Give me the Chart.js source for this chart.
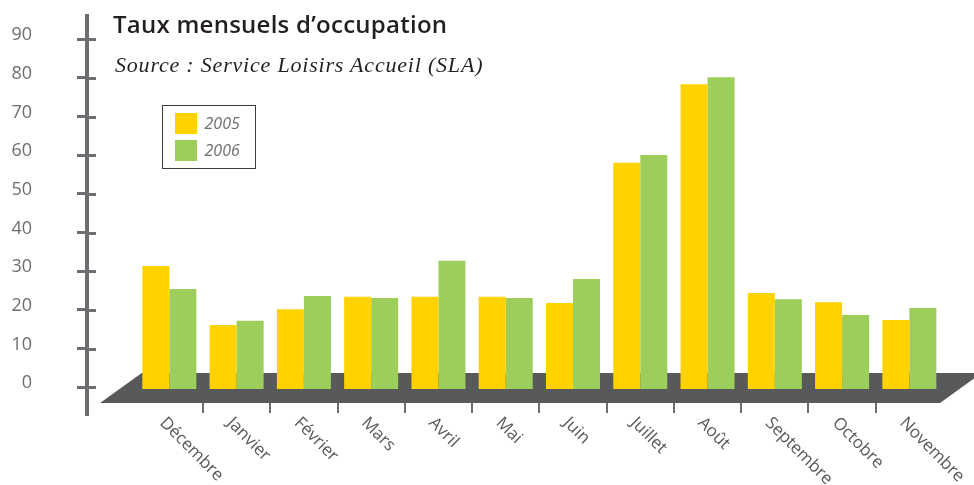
<!DOCTYPE html>
<html><head><meta charset="utf-8">
<script src="https://cdn.jsdelivr.net/npm/chart.js@4"></script>
<style>
html,body{margin:0;padding:0;background:#fff;}
#wrap{position:relative;width:974px;height:485px;overflow:hidden;background:#fff;}
#chart{position:absolute;left:0;top:0;}
#title{position:absolute;left:113px;top:12px;font:600 24px/24px 'Open Sans';color:#231f20;white-space:nowrap;letter-spacing:0.25px;}
#subtitle{position:absolute;left:115px;top:54px;font:italic 22px/22px 'Liberation Serif';color:#231f20;letter-spacing:0.8px;white-space:nowrap;}
#legend{position:absolute;left:162px;top:105px;width:94px;height:64px;border:1.5px solid #3d3d3d;box-sizing:border-box;}
.item{position:absolute;left:11.5px;height:21px;display:flex;align-items:center;}
.sw{width:22px;height:21px;}
.lbl{margin-left:8px;font:italic 16px/21px 'Open Sans';color:#6d6e71;}
</style></head>
<body>
<div id="wrap">
<canvas id="chart" width="974" height="485"></canvas>
<div id="title">Taux mensuels d’occupation</div>
<div id="subtitle">Source : Service Loisirs Accueil (SLA)</div>
<div id="legend"></div>
</div>
<script>
// ---- data ----
const months = ['Décembre','Janvier','Février','Mars','Avril','Mai','Juin','Juillet','Août','Septembre','Octobre','Novembre'];
const series2005 = [31.4, 16.1, 20.2, 23.4, 23.4, 23.4, 21.8, 58.1, 78.4, 24.4, 22.0, 17.4];
const series2006 = [25.4, 17.2, 23.6, 23.1, 32.7, 23.1, 28.0, 60.1, 80.2, 22.8, 18.7, 20.5];
const seriesLabels = ['2005', '2006'];
const yTicks = [0, 10, 20, 30, 40, 50, 60, 70, 80, 90];

const YELLOW = '#ffd200';
const GREEN = '#9dcd5a';
const AXIS = '#6d6e71';
const FLOOR = '#58595b';

// x scale with labels slanting down-right
class SlantedLinearScale extends Chart.LinearScale {
  _getXAxisLabelAlignment() { return 'left'; }
}
SlantedLinearScale.id = 'slantedLinear';
SlantedLinearScale.defaults = Chart.LinearScale.defaults;
Chart.register(SlantedLinearScale);

const toPoints = arr => arr.map((v, i) => ({ x: i, y: v }));

const decor = {
  id: 'decor',
  beforeDatasetsDraw(chart) {
    const { ctx, scales: { x, y } } = chart;
    const yTop = y.getPixelForValue(3.7);
    const yBot = y.getPixelForValue(y.min);
    const xBL = x.getPixelForValue(-1.03);
    const xTL = x.getPixelForValue(-0.41);
    const xBR = x.getPixelForValue(11.455);
    const xTR = xBR + (xTL - xBL);
    ctx.save();
    ctx.fillStyle = FLOOR;
    ctx.beginPath();
    ctx.moveTo(xBL, yBot);
    ctx.lineTo(xTL, yTop);
    ctx.lineTo(xTR, yTop);
    ctx.lineTo(xBR, yBot);
    ctx.closePath();
    ctx.fill();
    ctx.restore();
  },
  afterDraw(chart) {
    const { ctx, chartArea, scales: { y } } = chart;
    ctx.save();
    ctx.strokeStyle = AXIS;
    ctx.lineWidth = 3;
    ctx.beginPath();
    y.ticks.forEach(t => {
      const py = Math.round(y.getPixelForValue(t.value)) + 0.5;
      ctx.moveTo(chartArea.left, py);
      ctx.lineTo(chartArea.left + 9, py);
    });
    ctx.stroke();
    ctx.lineWidth = 4;
    ctx.beginPath();
    ctx.moveTo(chartArea.left, chartArea.bottom - 1);
    ctx.lineTo(chartArea.left, chartArea.bottom + 13);
    ctx.stroke();
    ctx.restore();
  }
};

const chart = new Chart(document.getElementById('chart'), {
  type: 'bar',
  data: {
    datasets: [
      { label: seriesLabels[0], data: toPoints(series2005), backgroundColor: YELLOW, base: -0.45 },
      { label: seriesLabels[1], data: toPoints(series2006), backgroundColor: GREEN, base: -0.45 }
    ]
  },
  options: {
    responsive: false,
    animation: false,
    devicePixelRatio: 1,
    categoryPercentage: 0.803,
    barPercentage: 1.0,
    layout: { padding: { top: 16, right: 31, left: 0, bottom: 0 } },
    plugins: { legend: { display: false }, title: { display: false }, tooltip: { enabled: false } },
    scales: {
      x: {
        type: 'slantedLinear',
        offset: false,
        min: -1.224,
        max: 11.5,
        afterBuildTicks: s => { s.ticks = months.map((m, i) => ({ value: i })); },
        afterFit: s => { s.height = 82; s.paddingLeft = 0; s.paddingRight = 0; },
        border: { display: false },
        grid: {
          display: true,
          drawOnChartArea: false,
          drawTicks: true,
          tickLength: 10,
          offset: true,
          lineWidth: 2,
          color: c => (c.type !== 'tick' || c.index === 0) ? 'rgba(0,0,0,0)' : AXIS
        },
        ticks: {
          autoSkip: false,
          minRotation: -45,
          maxRotation: -45,
          padding: 0,
          labelOffset: -7,
          font: { family: 'Open Sans', size: 17 },
          color: '#58595b',
          callback: v => months[v]
        }
      },
      y: {
        min: -4.06,
        max: 96.03,
        afterBuildTicks: s => { s.ticks = yTicks.map(v => ({ value: v })); },
        afterFit: s => { s.width = 87; s.paddingTop = 0; s.paddingBottom = 0; },
        border: { display: true, color: AXIS, width: 4 },
        grid: {
          display: true,
          drawOnChartArea: false,
          drawTicks: true,
          tickLength: 10,
          lineWidth: 3,
          color: AXIS
        },
        ticks: {
          padding: 45,
          labelOffset: -4,
          font: { family: 'Open Sans', size: 18 },
          color: AXIS,
          callback: v => String(v)
        }
      }
    }
  },
  plugins: [decor]
});

// HTML legend built from the datasets
const legendEl = document.getElementById('legend');
chart.data.datasets.forEach((ds, i) => {
  const row = document.createElement('div');
  row.className = 'item';
  row.style.top = (6.5 + i * 27) + 'px';
  const sw = document.createElement('span');
  sw.className = 'sw';
  sw.style.background = ds.backgroundColor;
  const lb = document.createElement('span');
  lb.className = 'lbl';
  lb.textContent = ds.label;
  row.appendChild(sw); row.appendChild(lb);
  legendEl.appendChild(row);
});
</script>
</body></html>
